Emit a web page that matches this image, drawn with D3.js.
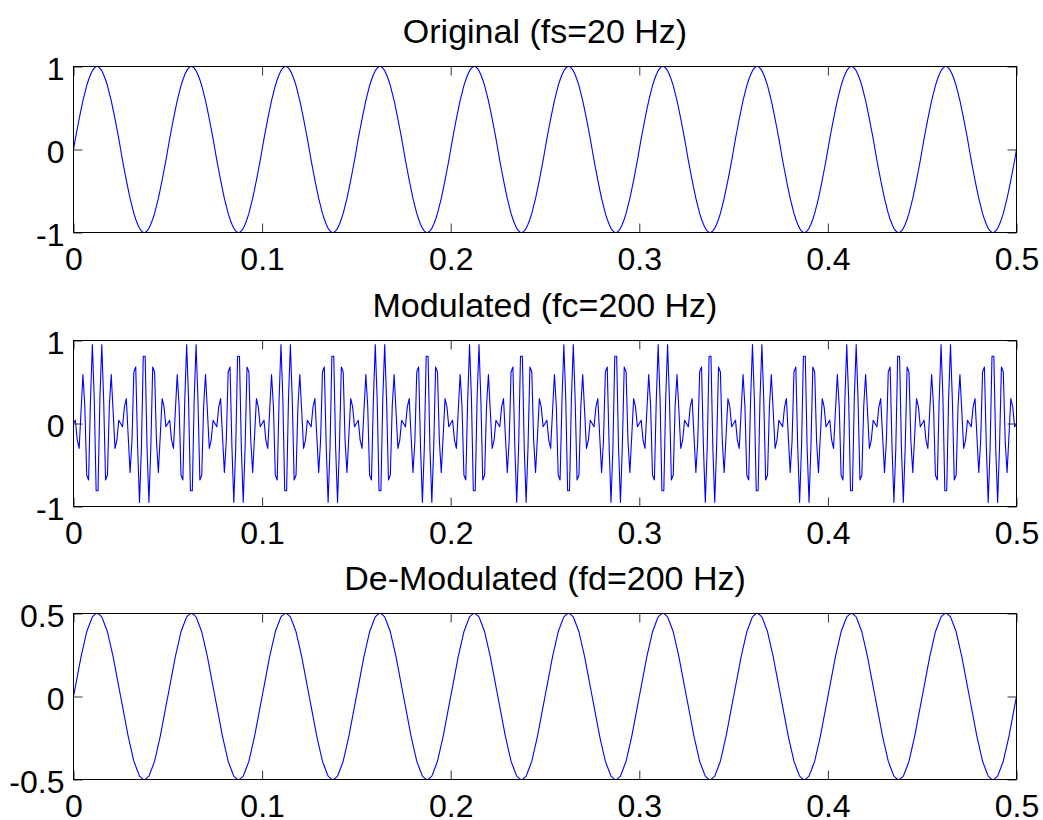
<!DOCTYPE html>
<html>
<head>
<meta charset="utf-8">
<script src="https://cdn.jsdelivr.net/npm/d3@7"></script>
<style>
  html, body { margin: 0; padding: 0; background: #fff; }
  svg { display: block; }
  text { font-family: "Liberation Sans", Arial, Helvetica, sans-serif; fill: #000; }
</style>
</head>
<body>
<svg id="chart" width="1043" height="820"></svg>
<script>
// ---------- data ----------
const sampleStep = 0.001;           // seconds between samples (fs = 1000 Hz)
const xTicks = [0, 0.1, 0.2, 0.3, 0.4, 0.5];
const xTickLabels = ["0", "0.1", "0.2", "0.3", "0.4", "0.5"];

const titles = ["Original (fs=20 Hz)", "Modulated (fc=200 Hz)", "De-Modulated (fd=200 Hz)"];

const yTicksOriginal = [-1, 0, 1];
const yTickLabelsOriginal = ["-1", "0", "1"];
const yTicksModulated = [-1, 0, 1];
const yTickLabelsModulated = ["-1", "0", "1"];
const yTicksDemod = [-0.5, 0, 0.5];
const yTickLabelsDemod = ["-0.5", "0", "0.5"];

const original = [
0,.13,.25,.37,.48,.59,.68,.77,.84,.9,.95,.98,1,1,.98,.95,.9,.84,.77,.68,.59,.48,.37,.25,.13,0,-.13,-.25,-.37,-.48,-.59,-.68,-.77,-.84,-.9,-.95,-.98,-1,-1,-.98,-.95,-.9,-.84,-.77,-.68,-.59,-.48,-.37,-.25,-.13,
0,.13,.25,.37,.48,.59,.68,.77,.84,.9,.95,.98,1,1,.98,.95,.9,.84,.77,.68,.59,.48,.37,.25,.13,0,-.13,-.25,-.37,-.48,-.59,-.68,-.77,-.84,-.9,-.95,-.98,-1,-1,-.98,-.95,-.9,-.84,-.77,-.68,-.59,-.48,-.37,-.25,-.13,
0,.13,.25,.37,.48,.59,.68,.77,.84,.9,.95,.98,1,1,.98,.95,.9,.84,.77,.68,.59,.48,.37,.25,.13,0,-.13,-.25,-.37,-.48,-.59,-.68,-.77,-.84,-.9,-.95,-.98,-1,-1,-.98,-.95,-.9,-.84,-.77,-.68,-.59,-.48,-.37,-.25,-.13,
0,.13,.25,.37,.48,.59,.68,.77,.84,.9,.95,.98,1,1,.98,.95,.9,.84,.77,.68,.59,.48,.37,.25,.13,0,-.13,-.25,-.37,-.48,-.59,-.68,-.77,-.84,-.9,-.95,-.98,-1,-1,-.98,-.95,-.9,-.84,-.77,-.68,-.59,-.48,-.37,-.25,-.13,
0,.13,.25,.37,.48,.59,.68,.77,.84,.9,.95,.98,1,1,.98,.95,.9,.84,.77,.68,.59,.48,.37,.25,.13,0,-.13,-.25,-.37,-.48,-.59,-.68,-.77,-.84,-.9,-.95,-.98,-1,-1,-.98,-.95,-.9,-.84,-.77,-.68,-.59,-.48,-.37,-.25,-.13,
0,.13,.25,.37,.48,.59,.68,.77,.84,.9,.95,.98,1,1,.98,.95,.9,.84,.77,.68,.59,.48,.37,.25,.13,0,-.13,-.25,-.37,-.48,-.59,-.68,-.77,-.84,-.9,-.95,-.98,-1,-1,-.98,-.95,-.9,-.84,-.77,-.68,-.59,-.48,-.37,-.25,-.13,
0,.13,.25,.37,.48,.59,.68,.77,.84,.9,.95,.98,1,1,.98,.95,.9,.84,.77,.68,.59,.48,.37,.25,.13,0,-.13,-.25,-.37,-.48,-.59,-.68,-.77,-.84,-.9,-.95,-.98,-1,-1,-.98,-.95,-.9,-.84,-.77,-.68,-.59,-.48,-.37,-.25,-.13,
0,.13,.25,.37,.48,.59,.68,.77,.84,.9,.95,.98,1,1,.98,.95,.9,.84,.77,.68,.59,.48,.37,.25,.13,0,-.13,-.25,-.37,-.48,-.59,-.68,-.77,-.84,-.9,-.95,-.98,-1,-1,-.98,-.95,-.9,-.84,-.77,-.68,-.59,-.48,-.37,-.25,-.13,
0,.13,.25,.37,.48,.59,.68,.77,.84,.9,.95,.98,1,1,.98,.95,.9,.84,.77,.68,.59,.48,.37,.25,.13,0,-.13,-.25,-.37,-.48,-.59,-.68,-.77,-.84,-.9,-.95,-.98,-1,-1,-.98,-.95,-.9,-.84,-.77,-.68,-.59,-.48,-.37,-.25,-.13,
0,.13,.25,.37,.48,.59,.68,.77,.84,.9,.95,.98,1,1,.98,.95,.9,.84,.77,.68,.59,.48,.37,.25,.13,0,-.13,-.25,-.37,-.48,-.59,-.68,-.77,-.84,-.9,-.95,-.98,-1,-1,-.98,-.95,-.9,-.84,-.77,-.68,-.59,-.48,-.37,-.25,-.13,
0];

const modulated = [
0,.04,-.2,-.3,.15,.59,.21,-.62,-.68,.28,.95,.3,-.81,-.81,.3,.95,.28,-.68,-.62,.21,.59,.15,-.3,-.2,.04,0,-.04,.2,.3,-.15,-.59,-.21,.62,.68,-.28,-.95,-.3,.81,.81,-.3,-.95,-.28,.68,.62,-.21,-.59,-.15,.3,.2,-.04,
0,.04,-.2,-.3,.15,.59,.21,-.62,-.68,.28,.95,.3,-.81,-.81,.3,.95,.28,-.68,-.62,.21,.59,.15,-.3,-.2,.04,0,-.04,.2,.3,-.15,-.59,-.21,.62,.68,-.28,-.95,-.3,.81,.81,-.3,-.95,-.28,.68,.62,-.21,-.59,-.15,.3,.2,-.04,
0,.04,-.2,-.3,.15,.59,.21,-.62,-.68,.28,.95,.3,-.81,-.81,.3,.95,.28,-.68,-.62,.21,.59,.15,-.3,-.2,.04,0,-.04,.2,.3,-.15,-.59,-.21,.62,.68,-.28,-.95,-.3,.81,.81,-.3,-.95,-.28,.68,.62,-.21,-.59,-.15,.3,.2,-.04,
0,.04,-.2,-.3,.15,.59,.21,-.62,-.68,.28,.95,.3,-.81,-.81,.3,.95,.28,-.68,-.62,.21,.59,.15,-.3,-.2,.04,0,-.04,.2,.3,-.15,-.59,-.21,.62,.68,-.28,-.95,-.3,.81,.81,-.3,-.95,-.28,.68,.62,-.21,-.59,-.15,.3,.2,-.04,
0,.04,-.2,-.3,.15,.59,.21,-.62,-.68,.28,.95,.3,-.81,-.81,.3,.95,.28,-.68,-.62,.21,.59,.15,-.3,-.2,.04,0,-.04,.2,.3,-.15,-.59,-.21,.62,.68,-.28,-.95,-.3,.81,.81,-.3,-.95,-.28,.68,.62,-.21,-.59,-.15,.3,.2,-.04,
0,.04,-.2,-.3,.15,.59,.21,-.62,-.68,.28,.95,.3,-.81,-.81,.3,.95,.28,-.68,-.62,.21,.59,.15,-.3,-.2,.04,0,-.04,.2,.3,-.15,-.59,-.21,.62,.68,-.28,-.95,-.3,.81,.81,-.3,-.95,-.28,.68,.62,-.21,-.59,-.15,.3,.2,-.04,
0,.04,-.2,-.3,.15,.59,.21,-.62,-.68,.28,.95,.3,-.81,-.81,.3,.95,.28,-.68,-.62,.21,.59,.15,-.3,-.2,.04,0,-.04,.2,.3,-.15,-.59,-.21,.62,.68,-.28,-.95,-.3,.81,.81,-.3,-.95,-.28,.68,.62,-.21,-.59,-.15,.3,.2,-.04,
0,.04,-.2,-.3,.15,.59,.21,-.62,-.68,.28,.95,.3,-.81,-.81,.3,.95,.28,-.68,-.62,.21,.59,.15,-.3,-.2,.04,0,-.04,.2,.3,-.15,-.59,-.21,.62,.68,-.28,-.95,-.3,.81,.81,-.3,-.95,-.28,.68,.62,-.21,-.59,-.15,.3,.2,-.04,
0,.04,-.2,-.3,.15,.59,.21,-.62,-.68,.28,.95,.3,-.81,-.81,.3,.95,.28,-.68,-.62,.21,.59,.15,-.3,-.2,.04,0,-.04,.2,.3,-.15,-.59,-.21,.62,.68,-.28,-.95,-.3,.81,.81,-.3,-.95,-.28,.68,.62,-.21,-.59,-.15,.3,.2,-.04,
0,.04,-.2,-.3,.15,.59,.21,-.62,-.68,.28,.95,.3,-.81,-.81,.3,.95,.28,-.68,-.62,.21,.59,.15,-.3,-.2,.04,0,-.04,.2,.3,-.15,-.59,-.21,.62,.68,-.28,-.95,-.3,.81,.81,-.3,-.95,-.28,.68,.62,-.21,-.59,-.15,.3,.2,-.04,
0];

const demodulated = [
0,.06,.12,.18,.24,.29,.34,.39,.42,.45,.48,.49,.5,.5,.49,.48,.45,.42,.39,.34,.29,.24,.18,.12,.06,0,-.06,-.12,-.18,-.24,-.29,-.34,-.39,-.42,-.45,-.48,-.49,-.5,-.5,-.49,-.48,-.45,-.42,-.39,-.34,-.29,-.24,-.18,-.12,-.06,
0,.06,.12,.18,.24,.29,.34,.39,.42,.45,.48,.49,.5,.5,.49,.48,.45,.42,.39,.34,.29,.24,.18,.12,.06,0,-.06,-.12,-.18,-.24,-.29,-.34,-.39,-.42,-.45,-.48,-.49,-.5,-.5,-.49,-.48,-.45,-.42,-.39,-.34,-.29,-.24,-.18,-.12,-.06,
0,.06,.12,.18,.24,.29,.34,.39,.42,.45,.48,.49,.5,.5,.49,.48,.45,.42,.39,.34,.29,.24,.18,.12,.06,0,-.06,-.12,-.18,-.24,-.29,-.34,-.39,-.42,-.45,-.48,-.49,-.5,-.5,-.49,-.48,-.45,-.42,-.39,-.34,-.29,-.24,-.18,-.12,-.06,
0,.06,.12,.18,.24,.29,.34,.39,.42,.45,.48,.49,.5,.5,.49,.48,.45,.42,.39,.34,.29,.24,.18,.12,.06,0,-.06,-.12,-.18,-.24,-.29,-.34,-.39,-.42,-.45,-.48,-.49,-.5,-.5,-.49,-.48,-.45,-.42,-.39,-.34,-.29,-.24,-.18,-.12,-.06,
0,.06,.12,.18,.24,.29,.34,.39,.42,.45,.48,.49,.5,.5,.49,.48,.45,.42,.39,.34,.29,.24,.18,.12,.06,0,-.06,-.12,-.18,-.24,-.29,-.34,-.39,-.42,-.45,-.48,-.49,-.5,-.5,-.49,-.48,-.45,-.42,-.39,-.34,-.29,-.24,-.18,-.12,-.06,
0,.06,.12,.18,.24,.29,.34,.39,.42,.45,.48,.49,.5,.5,.49,.48,.45,.42,.39,.34,.29,.24,.18,.12,.06,0,-.06,-.12,-.18,-.24,-.29,-.34,-.39,-.42,-.45,-.48,-.49,-.5,-.5,-.49,-.48,-.45,-.42,-.39,-.34,-.29,-.24,-.18,-.12,-.06,
0,.06,.12,.18,.24,.29,.34,.39,.42,.45,.48,.49,.5,.5,.49,.48,.45,.42,.39,.34,.29,.24,.18,.12,.06,0,-.06,-.12,-.18,-.24,-.29,-.34,-.39,-.42,-.45,-.48,-.49,-.5,-.5,-.49,-.48,-.45,-.42,-.39,-.34,-.29,-.24,-.18,-.12,-.06,
0,.06,.12,.18,.24,.29,.34,.39,.42,.45,.48,.49,.5,.5,.49,.48,.45,.42,.39,.34,.29,.24,.18,.12,.06,0,-.06,-.12,-.18,-.24,-.29,-.34,-.39,-.42,-.45,-.48,-.49,-.5,-.5,-.49,-.48,-.45,-.42,-.39,-.34,-.29,-.24,-.18,-.12,-.06,
0,.06,.12,.18,.24,.29,.34,.39,.42,.45,.48,.49,.5,.5,.49,.48,.45,.42,.39,.34,.29,.24,.18,.12,.06,0,-.06,-.12,-.18,-.24,-.29,-.34,-.39,-.42,-.45,-.48,-.49,-.5,-.5,-.49,-.48,-.45,-.42,-.39,-.34,-.29,-.24,-.18,-.12,-.06,
0,.06,.12,.18,.24,.29,.34,.39,.42,.45,.48,.49,.5,.5,.49,.48,.45,.42,.39,.34,.29,.24,.18,.12,.06,0,-.06,-.12,-.18,-.24,-.29,-.34,-.39,-.42,-.45,-.48,-.49,-.5,-.5,-.49,-.48,-.45,-.42,-.39,-.34,-.29,-.24,-.18,-.12,-.06,
0];

// ---------- layout ----------
const svg = d3.select("#chart");
const left = 73.5, right = 1016.5;
const panelTops = [66.5, 340.5, 613.5];
const panelHeight = 166;
const tickLen = 9;
const tickFont = 32;
const titleFont = 34;
const lineColor = "#0000ff";

const panels = [
  { series: original, domain: [-1, 1], yTicks: yTicksOriginal, yLabels: yTickLabelsOriginal, title: titles[0] },
  { series: modulated, domain: [-1, 1], yTicks: yTicksModulated, yLabels: yTickLabelsModulated, title: titles[1] },
  { series: demodulated, domain: [-0.5, 0.5], yTicks: yTicksDemod, yLabels: yTickLabelsDemod, title: titles[2] }
];

const x = d3.scaleLinear().domain([0, 0.5]).range([left, right]);

panels.forEach((p, k) => {
  const top = panelTops[k], bottom = top + panelHeight;
  const y = d3.scaleLinear().domain(p.domain).range([bottom, top]);
  const g = svg.append("g");

  // data line
  const line = d3.line()
    .x((d, i) => x(i * sampleStep))
    .y(d => y(d));
  g.append("path")
    .datum(p.series)
    .attr("d", line)
    .attr("fill", "none")
    .attr("stroke", lineColor)
    .attr("stroke-width", 1.1)
    .attr("stroke-linejoin", "round");

  // x ticks (bottom & top, inward)
  const xAxisB = d3.axisBottom(x).tickValues(xTicks).tickSizeInner(-tickLen).tickSizeOuter(0).tickFormat((d, i) => xTickLabels[i]).tickPadding(tickLen + 12);
  const gxb = g.append("g").attr("transform", `translate(0,${bottom})`).call(xAxisB);
  gxb.select(".domain").remove();
  gxb.selectAll(".tick line").attr("stroke", "#333");
  gxb.selectAll(".tick text").attr("font-size", tickFont).attr("font-family", "Liberation Sans, Arial, sans-serif")
     .attr("dy", null).attr("y", 37).attr("fill", "#000");

  const xAxisT = d3.axisTop(x).tickValues(xTicks).tickSizeInner(-tickLen).tickSizeOuter(0).tickFormat("");
  const gxt = g.append("g").attr("transform", `translate(0,${top})`).call(xAxisT);
  gxt.select(".domain").remove();
  gxt.selectAll(".tick line").attr("stroke", "#333");

  // y ticks (left & right, inward)
  const yAxisL = d3.axisLeft(y).tickValues(p.yTicks).tickSizeInner(-tickLen).tickSizeOuter(0).tickFormat((d, i) => p.yLabels[i]);
  const gyl = g.append("g").attr("transform", `translate(${left},0)`).call(yAxisL);
  gyl.select(".domain").remove();
  gyl.selectAll(".tick line").attr("stroke", "#333");
  gyl.selectAll(".tick text").attr("font-size", tickFont).attr("font-family", "Liberation Sans, Arial, sans-serif")
     .attr("x", -9).attr("dy", null).attr("y", 13).attr("fill", "#000");

  const yAxisR = d3.axisRight(y).tickValues(p.yTicks).tickSizeInner(-tickLen).tickSizeOuter(0).tickFormat("");
  const gyr = g.append("g").attr("transform", `translate(${right},0)`).call(yAxisR);
  gyr.select(".domain").remove();
  gyr.selectAll(".tick line").attr("stroke", "#333");

  // box
  g.append("rect")
    .attr("x", left).attr("y", top)
    .attr("width", right - left).attr("height", panelHeight)
    .attr("fill", "none").attr("stroke", "#000").attr("stroke-width", 1);

  // title
  g.append("text")
    .attr("x", (left + right) / 2)
    .attr("y", top - 24)
    .attr("text-anchor", "middle")
    .attr("font-size", titleFont)
    .text(p.title);
});
</script>
</body>
</html>
